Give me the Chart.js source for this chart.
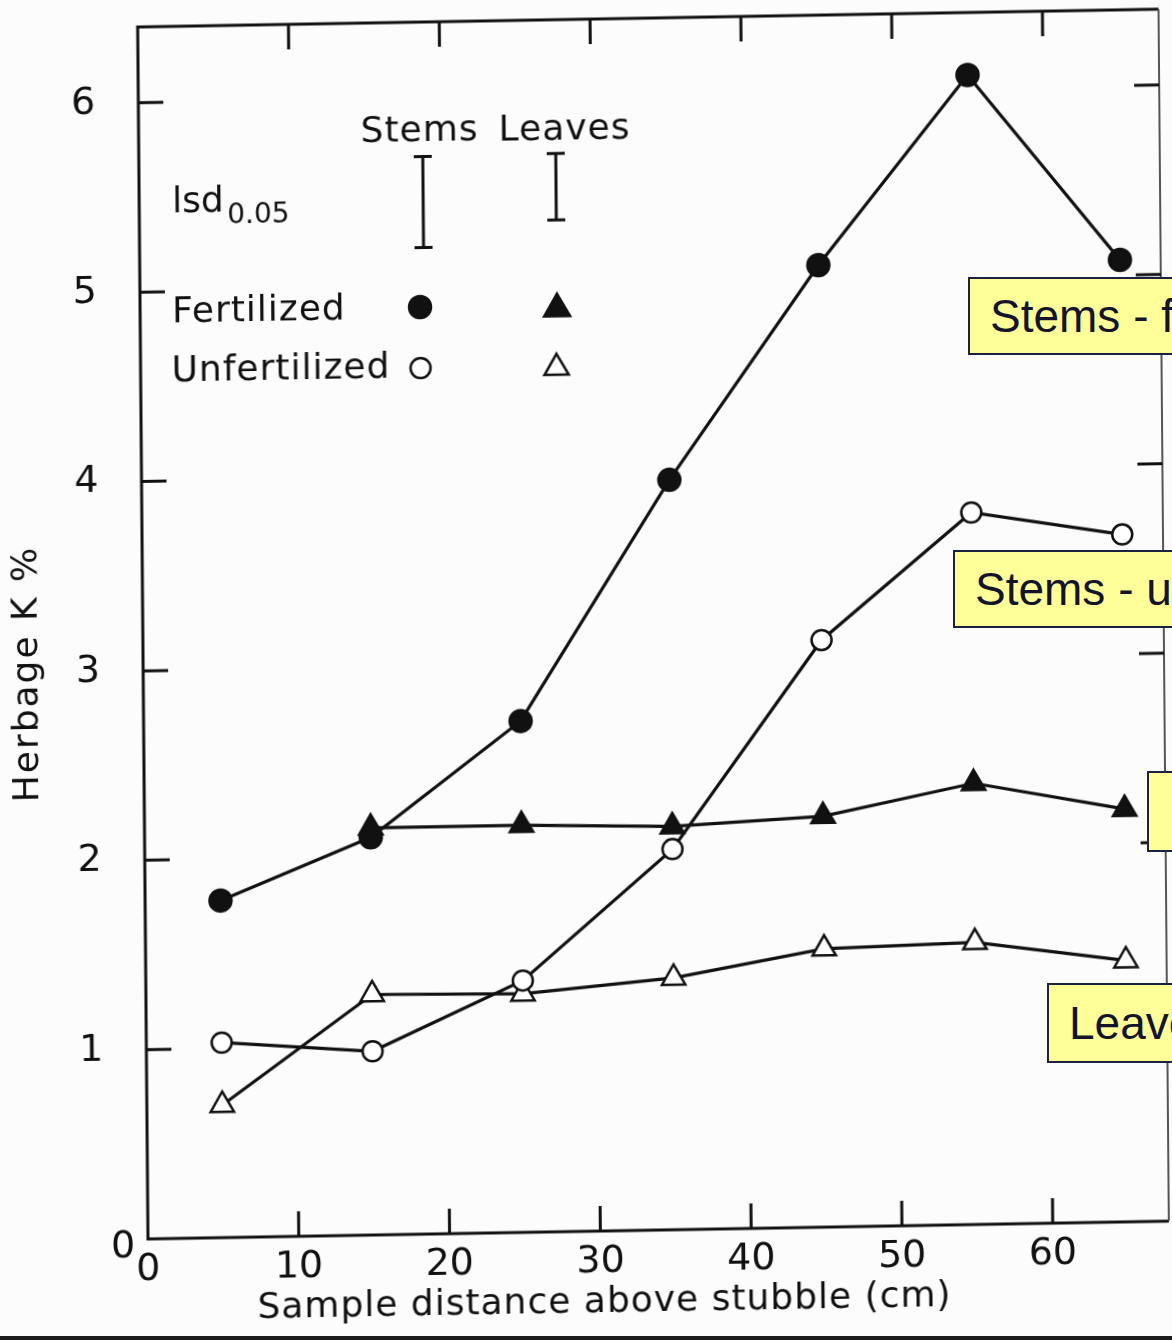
<!DOCTYPE html>
<html>
<head>
<meta charset="utf-8">
<script src="https://cdn.jsdelivr.net/npm/chart.js@4.4.1/dist/chart.umd.min.js"></script>
<style>
  html, body { margin: 0; padding: 0; }
  body { width: 1172px; height: 1340px; overflow: hidden; position: relative; background: #fcfcfc; }
  /* the scanned figure is slightly skewed, so the canvas is too */
  #herbage { position: absolute; left: 0; top: 0; transform-origin: 0 0;
    transform: matrix(1, -0.01745, 0.0085, 1, -10.53, 2.58); }
  .note { position: absolute; box-sizing: border-box; background: #ffff99; border: 2px solid #1b2340;
    color: #14142a; font: 46px "Liberation Sans", Arial, sans-serif; white-space: nowrap;
    padding-left: 20px; padding-right: 20px; display: flex; align-items: center; }
  .edge { position: absolute; left: 0; bottom: 0; width: 1172px; height: 4px; background: #1c1c1c; }
</style>
</head>
<body>
<canvas id="herbage" width="1172" height="1340"></canvas>
<div class="note" style="left:968px; top:277px; height:78px;">Stems - fertilized</div>
<div class="note" style="left:953px; top:550px; height:78px;">Stems - unfertilized</div>
<div class="note" style="left:1147px; top:771px; height:81px;">Leaves - fertilized</div>
<div class="note" style="left:1047px; top:983px; height:80px;">Leaves - unfertilized</div>
<div class="edge"></div>
<script>
// sample distance above stubble (cm) and herbage K %
const distances    = [5, 15, 25, 35, 45, 55, 65];
const stemsFert    = [1.78, 2.10, 2.70, 3.96, 5.08, 6.07, 5.08];
const stemsUnfert  = [1.03, 0.97, 1.33, 2.01, 3.10, 3.76, 3.63];
const leavesFert   = [null, 2.15, 2.15, 2.13, 2.17, 2.33, 2.18];
const leavesUnfert = [0.70, 1.27, 1.26, 1.33, 1.47, 1.49, 1.38];

const xTicks = [0, 10, 20, 30, 40, 50, 60];
const yTicks = [1, 2, 3, 4, 5, 6];

// lsd 0.05 bar lengths, K % units
const lsdStems  = 0.48;
const lsdLeaves = 0.35;

const ink = '#111';
const face = '"DejaVu Sans", Arial, sans-serif';
Chart.defaults.font.family = face;

const pts = arr => distances.map((d, i) => ({ x: d, y: arr[i] })).filter(p => p.y !== null);

function marker(ctx, style, filled, x, y, r) {
  ctx.beginPath();
  if (style === 'circle') {
    ctx.arc(x, y, r, 0, Math.PI * 2);
  } else {
    let rad = 0;
    ctx.moveTo(x + Math.sin(rad) * r, y - Math.cos(rad) * r);
    rad += Math.PI * 2 / 3;
    ctx.lineTo(x + Math.sin(rad) * r, y - Math.cos(rad) * r);
    rad += Math.PI * 2 / 3;
    ctx.lineTo(x + Math.sin(rad) * r, y - Math.cos(rad) * r);
    ctx.closePath();
  }
  ctx.fillStyle = filled ? ink : '#fff';
  ctx.fill();
  ctx.lineWidth = 2.5;
  ctx.strokeStyle = ink;
  ctx.stroke();
}

// frame with inward ticks on all four sides
const frame = {
  id: 'frame',
  beforeDatasetsDraw(chart) {
    const { ctx, chartArea: a, scales: { x, y } } = chart;
    ctx.save();
    ctx.strokeStyle = ink;
    ctx.lineWidth = 3;
    ctx.beginPath();
    ctx.moveTo(a.right, a.top);
    ctx.lineTo(a.left, a.top);
    ctx.lineTo(a.left, a.bottom);
    ctx.lineTo(a.right, a.bottom);
    ctx.stroke();
    ctx.strokeStyle = '#555';
    ctx.lineWidth = 2;
    ctx.beginPath();
    ctx.moveTo(a.right, a.top);
    ctx.lineTo(a.right, a.bottom);
    ctx.stroke();

    ctx.strokeStyle = ink;
    ctx.lineWidth = 3;
    ctx.beginPath();
    xTicks.slice(1).forEach(v => {
      const px = x.getPixelForValue(v);
      ctx.moveTo(px, a.bottom); ctx.lineTo(px, a.bottom - 25);
      ctx.moveTo(px, a.top);    ctx.lineTo(px, a.top + 25);
    });
    yTicks.forEach(v => {
      const py = y.getPixelForValue(v);
      ctx.moveTo(a.left, py);  ctx.lineTo(a.left + 25, py);
      ctx.moveTo(a.right, py); ctx.lineTo(a.right - 25, py);
    });
    ctx.stroke();
    ctx.restore();
  },
  afterDraw(chart) {
    const { ctx, chartArea: a, scales: { x, y } } = chart;
    ctx.save();
    ctx.fillStyle = ink;
    ctx.textAlign = 'center';
    ctx.textBaseline = 'middle';

    // y origin label
    ctx.font = '38px ' + face;
    ctx.fillText('0', a.left - 25, a.bottom + 8);

    // axis titles
    ctx.font = '36px ' + face;
    ctx.letterSpacing = '1px';
    ctx.fillText('Sample distance above stubble (cm)', 604, 1311);
    ctx.save();
    ctx.translate(33, 672);
    ctx.rotate(-Math.PI / 2);
    ctx.letterSpacing = '2px';
    ctx.fillText('Herbage K %', 0, 0);
    ctx.restore();

    // key
    const L = a.left, T = a.top;
    ctx.letterSpacing = '1px';
    ctx.fillText('Stems', L + 281, T + 110);
    ctx.fillText('Leaves', L + 426, T + 111);
    ctx.textAlign = 'left';
    ctx.fillText('Fertilized', L + 32, T + 287);
    ctx.fillText('Unfertilized', L + 31, T + 346);
    ctx.letterSpacing = '0px';
    ctx.fillText('lsd', L + 33, T + 177);
    ctx.font = '28px ' + face;
    ctx.fillText('0.05', L + 88, T + 191);

    // lsd bars, length from the y scale
    const unit = y.getPixelForValue(0) - y.getPixelForValue(1);
    ctx.strokeStyle = ink;
    ctx.lineWidth = 3;
    [[L + 284, T + 180, lsdStems], [L + 417, T + 167, lsdLeaves]].forEach(([cx, cy, v]) => {
      const h = v * unit / 2;
      ctx.beginPath();
      ctx.moveTo(cx, cy - h); ctx.lineTo(cx, cy + h);
      ctx.moveTo(cx - 9, cy - h); ctx.lineTo(cx + 9, cy - h);
      ctx.moveTo(cx - 9, cy + h); ctx.lineTo(cx + 9, cy + h);
      ctx.stroke();
    });

    marker(ctx, 'circle', true, L + 280, T + 285, 11);
    marker(ctx, 'triangle', true, L + 417, T + 289, 15);
    marker(ctx, 'circle', false, L + 280, T + 346, 10);
    marker(ctx, 'triangle', false, L + 416, T + 348, 14);
    ctx.restore();
  }
};

const base = { borderColor: ink, borderWidth: 3.2, showLine: true, tension: 0,
  pointBorderColor: ink, pointBorderWidth: 2.5 };

new Chart(document.getElementById('herbage'), {
  type: 'scatter',
  data: {
    datasets: [
      { ...base, label: 'Stems - unfertilized', data: pts(stemsUnfert),
        pointStyle: 'circle', pointRadius: 10, pointBackgroundColor: '#fff' },
      { ...base, label: 'Leaves - unfertilized', data: pts(leavesUnfert),
        pointStyle: 'triangle', pointRadius: 13.5, pointBackgroundColor: '#fff' },
      { ...base, label: 'Stems - fertilized', data: pts(stemsFert),
        pointStyle: 'circle', pointRadius: 11, pointBackgroundColor: ink },
      { ...base, label: 'Leaves - fertilized', data: pts(leavesFert),
        pointStyle: 'triangle', pointRadius: 13.5, pointBackgroundColor: ink },
    ],
  },
  options: {
    responsive: false,
    animation: false,
    layout: { autoPadding: false, padding: { top: 27, right: 3, left: 0, bottom: 0 } },
    plugins: { legend: { display: false }, tooltip: { enabled: false } },
    scales: {
      x: {
        type: 'linear', min: 0, max: 67.7,
        afterBuildTicks: s => { s.ticks = xTicks.map(v => ({ value: v })); },
        afterFit: s => { s.height = 101; s.paddingLeft = 0; s.paddingRight = 0; },
        grid: { display: false }, border: { display: false },
        ticks: { color: ink, font: { size: 38 }, padding: 0, maxRotation: 0, autoSkip: false },
      },
      y: {
        type: 'linear', min: 0, max: 6.4,
        afterBuildTicks: s => { s.ticks = yTicks.map(v => ({ value: v })); },
        afterFit: s => { s.width = 148; s.paddingTop = 0; s.paddingBottom = 0; },
        grid: { display: false }, border: { display: false },
        ticks: { color: ink, font: { size: 38 }, padding: 35 },
      },
    },
  },
  plugins: [frame],
});
</script>
</body>
</html>
